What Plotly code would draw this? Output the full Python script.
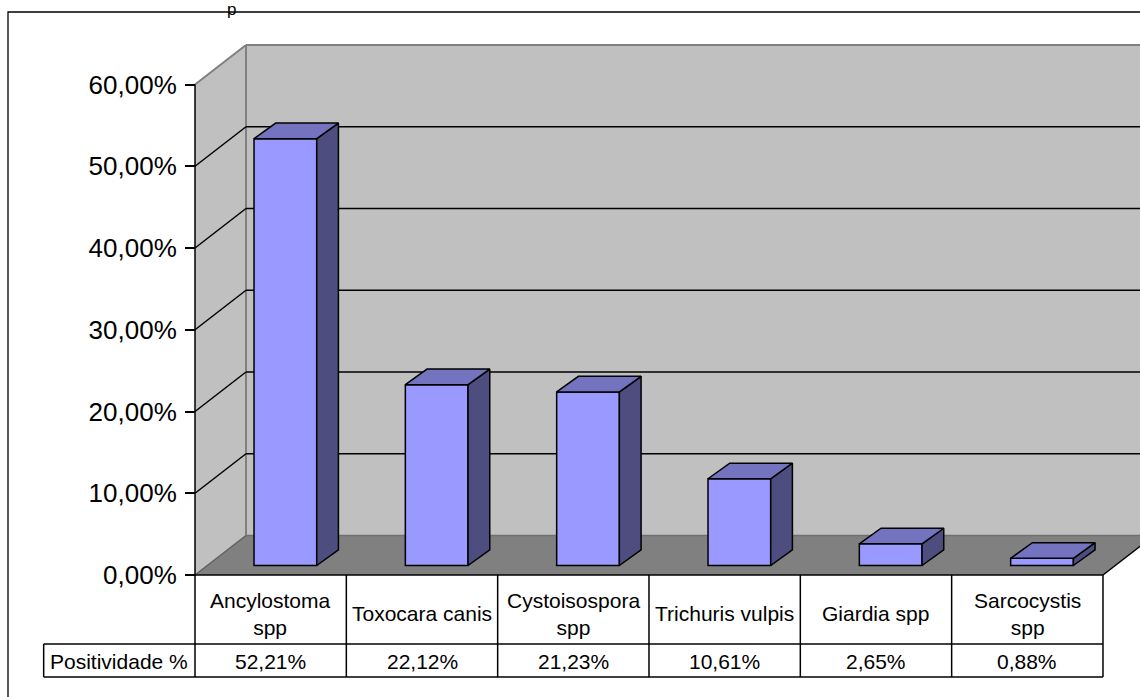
import plotly.graph_objects as go

# ---------------- data ----------------
categories = ["Ancylostoma<br>spp", "Toxocara canis", "Cystoisospora<br>spp",
              "Trichuris vulpis", "Giardia spp", "Sarcocystis<br>spp"]
positividade = [52.21, 22.12, 21.23, 10.61, 2.65, 0.88]
tick_vals = [0, 10, 20, 30, 40, 50, 60]
row_label = "Positividade %"
title_fragment = "p"

def fmt(v):
    return f"{v:.2f}".replace(".", ",") + "%"

tick_text = [fmt(v) for v in tick_vals]
value_text = [fmt(v) for v in positividade]

# ---------------- geometry (pixel calibration) ----------------
W, H = 1140, 697
X0_PX, COL_PX = 195.0, 151.33
Y0_PX, PCT_PX = 575.0, 8.175
x_range = [-X0_PX / COL_PX, (W - X0_PX) / COL_PX]
y_range = [(Y0_PX - H) / PCT_PX, Y0_PX / PCT_PX]


def dx(px):
    return px / COL_PX


def dy(px):
    return px / PCT_PX


DX, DY = dx(51), dy(39.5)          # wall depth
FX, FY = dx(14.7), dy(9.5)         # bar front face offset
BX, BY = dx(21.7), dy(15.6)        # bar depth
HALF_W = dx(62.7) / 2
n = len(categories)
ymax = tick_vals[-1]

WALL = "#C0C0C0"
FLOOR = "#808080"
EDGE = "#808080"
FRONT_C = "#9999FF"
TOP_C = "#7373BF"
SIDE_C = "#4D4D80"
FONT = "Liberation Sans, Arial, sans-serif"

fig = go.Figure()

# ---------------- walls & floor (shapes below traces) ----------------
shapes = []


def path(pts):
    return "M " + " L ".join(f"{x},{y}" for x, y in pts) + " Z"


shapes.append(dict(type="path", xref="x", yref="y", layer="below",
                   path=path([(0, 0), (0, ymax), (DX, ymax + DY), (DX, DY)]),
                   fillcolor=WALL, line=dict(width=0)))
shapes.append(dict(type="path", xref="x", yref="y", layer="below",
                   path=path([(DX, DY), (DX, ymax + DY), (n + DX, ymax + DY), (n + DX, DY)]),
                   fillcolor=WALL, line=dict(width=0)))
shapes.append(dict(type="path", xref="x", yref="y", layer="below",
                   path=path([(0, 0), (n, 0), (n + DX, DY), (DX, DY)]),
                   fillcolor=FLOOR, line=dict(width=0)))


def seg(x0, y0, x1, y1, color, width, layer="below"):
    shapes.append(dict(type="line", xref="x", yref="y", layer=layer,
                       x0=x0, y0=y0, x1=x1, y1=y1,
                       line=dict(color=color, width=width)))


# wall edges
seg(0, ymax, DX, ymax + DY, EDGE, 2)
seg(DX, ymax + DY, n + DX, ymax + DY, EDGE, 2)
seg(DX, DY, DX, ymax + DY, EDGE, 2)
seg(0, 0, DX, DY, "#606060", 1.5)
seg(DX, DY, n + DX, DY, "#707070", 1.5)
seg(n, 0, n + DX, DY, "black", 1.5)

# gridlines
for v in tick_vals[1:-1]:
    seg(0, v, DX, v + DY, "black", 1.5)
    seg(DX, v + DY, n + DX, v + DY, "black", 1.5)

# ---------------- bars ----------------
xc = [k + 0.5 + FX for k in range(n)]
fig.add_trace(go.Bar(x=xc, y=positividade, base=FY, width=2 * HALF_W,
                     marker=dict(color=FRONT_C, line=dict(color="black", width=1.5)),
                     hoverinfo="skip", showlegend=False))

top_x, top_y, side_x, side_y = [], [], [], []
for c, v in zip(xc, positividade):
    l, r = c - HALF_W, c + HALF_W
    t = FY + v
    top_x += [l, r, r + BX, l + BX, l, None]
    top_y += [t, t, t + BY, t + BY, t, None]
    side_x += [r, r + BX, r + BX, r, r, None]
    side_y += [FY, FY + BY, t + BY, t, FY, None]

fig.add_trace(go.Scatter(x=side_x, y=side_y, mode="lines", fill="toself",
                         fillcolor=SIDE_C, line=dict(color="black", width=1.5),
                         hoverinfo="skip", showlegend=False))
fig.add_trace(go.Scatter(x=top_x, y=top_y, mode="lines", fill="toself",
                         fillcolor=TOP_C, line=dict(color="black", width=1.5),
                         hoverinfo="skip", showlegend=False))

# ---------------- axis line ----------------
seg(0, 0, 0, ymax, "black", 1.5, layer="above")

# ---------------- data table ----------------
y_mid = -dy(69)
y_bot = -dy(102)
seg(0, 0, n, 0, "black", 1.5, layer="above")
seg(-1, y_mid, n, y_mid, "black", 1.5, layer="above")
seg(-1, y_bot, n, y_bot, "black", 1.5, layer="above")
seg(-1, y_mid, -1, y_bot, "black", 1.5, layer="above")
for k in range(n + 1):
    seg(k, 0, k, y_bot, "black", 1.5, layer="above")

annotations = []
for k, (cat, vt) in enumerate(zip(categories, value_text)):
    annotations.append(dict(x=k + 0.5, y=-dy(38.5), xref="x", yref="y", text=cat,
                            showarrow=False, xanchor="center", yanchor="middle",
                            font=dict(family=FONT, size=21, color="black")))
    annotations.append(dict(x=k + 0.5, y=-dy(86), xref="x", yref="y", text=vt,
                            showarrow=False, xanchor="center", yanchor="middle",
                            font=dict(family=FONT, size=21, color="black")))
annotations.append(dict(x=-0.5, y=-dy(86), xref="x", yref="y", text=row_label,
                        showarrow=False, xanchor="center", yanchor="middle",
                        font=dict(family=FONT, size=21, color="black")))
annotations.append(dict(x=231 / W, y=1, xref="paper", yref="paper",
                        text=title_fragment, showarrow=False,
                        xanchor="center", yanchor="top", yshift=2,
                        font=dict(family=FONT, size=17, color="black")))

# outer chart border
shapes.append(dict(type="rect", xref="paper", yref="paper", layer="above",
                   x0=8 / W, x1=1.05, y0=-0.05, y1=1 - 12 / H,
                   line=dict(color="black", width=1.3), fillcolor="rgba(0,0,0,0)"))

fig.update_layout(
    width=W, height=H, autosize=False,
    margin=dict(l=0, r=0, t=0, b=0, pad=0),
    paper_bgcolor="white", plot_bgcolor="white",
    showlegend=False,
    xaxis=dict(range=x_range, visible=False, fixedrange=True),
    yaxis=dict(range=y_range, anchor="free", position=X0_PX / W,
               showgrid=False, zeroline=False, showline=False,
               tickmode="array", tickvals=tick_vals, ticktext=tick_text,
               ticks="outside", ticklen=10, tickwidth=1.5, tickcolor="black",
               ticklabelstandoff=3,
               tickfont=dict(family=FONT, size=26, color="black"),
               fixedrange=True),
    shapes=shapes,
    annotations=annotations,
)

fig.write_html("out.html")
